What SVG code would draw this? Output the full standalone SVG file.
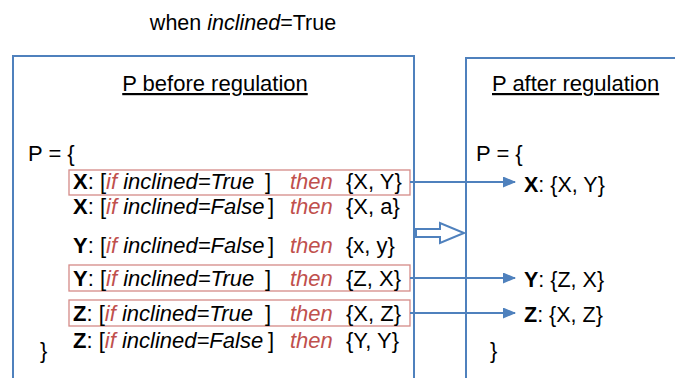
<svg xmlns="http://www.w3.org/2000/svg" width="675" height="378" viewBox="0 0 675 378">
<defs>
<style>
text{font-family:"Liberation Sans",Arial,sans-serif;font-size:22px;fill:#000;white-space:pre}
.t{font-size:21.5px}
.res{font-size:21.5px}
.r{fill:#C0504D}
.b{font-weight:bold}
.i{font-style:italic}
.box{fill:none;stroke:#4F81BD;stroke-width:2}
.hl{fill:none;stroke:#D58A87;stroke-width:1.3}
.conn{stroke:#4F81BD;stroke-width:2;fill:none}
</style>
<marker id="ah" markerWidth="13" markerHeight="11" refX="12" refY="5.5" orient="auto" markerUnits="userSpaceOnUse" viewBox="0 0 13 11">
<path d="M0,0 L13,5.5 L0,11 z" fill="#4F81BD"/>
</marker>
</defs>
<rect width="675" height="378" fill="#fff"/>
<text class="t" x="243" y="30" text-anchor="middle">when <tspan class="i">inclined</tspan>=True</text>
<g id="before">
<rect class="box" x="13" y="56" width="401" height="340"/>
<text x="215" y="91" text-anchor="middle" text-decoration="underline">P before regulation</text>
<text x="28" y="161">P = {</text>
<text x="40" y="358">}</text>
</g>
<g id="rule-x-true">
<rect class="hl" x="69" y="170" width="341" height="25"/>
<text x="73" y="189"><tspan class="b">X</tspan>: [<tspan class="i r">if</tspan><tspan class="i"> inclined=True</tspan><tspan x="265">]</tspan><tspan class="i r" x="290">then</tspan><tspan x="346">{X, Y}</tspan></text>
</g>
<g id="rule-x-false">
<text x="73" y="214"><tspan class="b">X</tspan>: [<tspan class="i r">if</tspan><tspan class="i"> inclined=False</tspan><tspan x="268">]</tspan><tspan class="i r" x="290">then</tspan><tspan x="346">{X, a}</tspan></text>
</g>
<g id="rule-y-false">
<text x="73" y="253"><tspan class="b">Y</tspan>: [<tspan class="i r">if</tspan><tspan class="i"> inclined=False</tspan><tspan x="268">]</tspan><tspan class="i r" x="290">then</tspan><tspan x="346">{x, y}</tspan></text>
</g>
<g id="rule-y-true">
<rect class="hl" x="69" y="265" width="341" height="26"/>
<text x="73" y="286"><tspan class="b">Y</tspan>: [<tspan class="i r">if</tspan><tspan class="i"> inclined=True</tspan><tspan x="265">]</tspan><tspan class="i r" x="290">then</tspan><tspan x="346">{Z, X}</tspan></text>
</g>
<g id="rule-z-true">
<rect class="hl" x="69" y="300" width="341" height="26"/>
<text x="73" y="321"><tspan class="b">Z</tspan>: [<tspan class="i r">if</tspan><tspan class="i"> inclined=True</tspan><tspan x="265">]</tspan><tspan class="i r" x="290">then</tspan><tspan x="346">{X, Z}</tspan></text>
</g>
<g id="rule-z-false">
<text x="73" y="348"><tspan class="b">Z</tspan>: [<tspan class="i r">if</tspan><tspan class="i"> inclined=False</tspan><tspan x="268">]</tspan><tspan class="i r" x="290">then</tspan><tspan x="346">{Y, Y}</tspan></text>
</g>
<g id="after">
<rect class="box" x="466" y="58" width="230" height="340"/>
<text x="492" y="91" text-decoration="underline">P after regulation</text>
<text x="476" y="161">P = {</text>
<text x="490" y="358">}</text>
</g>
<g id="res-x"><text class="res" x="524" y="192"><tspan class="b">X</tspan>: {X, Y}</text></g>
<g id="res-y"><text class="res" x="524" y="287"><tspan class="b">Y</tspan>: {Z, X}</text></g>
<g id="res-z"><text class="res" x="524" y="322"><tspan class="b">Z</tspan>: {X, Z}</text></g>
<g id="connectors">
<line class="conn" x1="410" y1="182" x2="515" y2="182" marker-end="url(#ah)"/>
<line class="conn" x1="410" y1="278" x2="515" y2="278" marker-end="url(#ah)"/>
<line class="conn" x1="410" y1="313" x2="515" y2="313" marker-end="url(#ah)"/>
<path d="M416,229 L440,229 L440,223 L464,233 L440,243 L440,237 L416,237 z" fill="#fff" stroke="#4F81BD" stroke-width="2"/>
</g>
</svg>
